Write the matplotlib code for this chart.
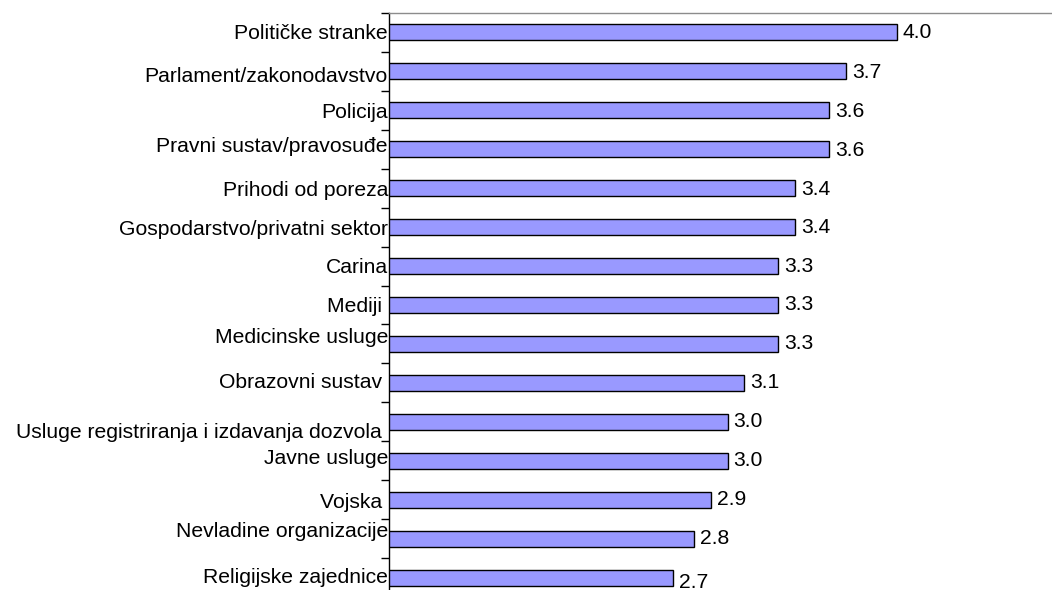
import matplotlib
matplotlib.use("Agg")
import matplotlib.pyplot as plt
import matplotlib.transforms as mtransforms
from matplotlib.ticker import FixedLocator, NullFormatter

plt.rcParams['font.family'] = ['Liberation Sans', 'DejaVu Sans']

categories = [
    "Političke stranke",
    "Parlament/zakonodavstvo",
    "Policija",
    "Pravni sustav/pravosuđe",
    "Prihodi od poreza",
    "Gospodarstvo/privatni sektor",
    "Carina",
    "Mediji ",
    "Medicinske usluge",
    "Obrazovni sustav ",
    "Usluge registriranja i izdavanja dozvola ",
    "Javne usluge",
    "Vojska ",
    "Nevladine organizacije",
    "Religijske zajednice",
]
values = [4.0, 3.7, 3.6, 3.6, 3.4, 3.4, 3.3, 3.3, 3.3, 3.1, 3.0, 3.0, 2.9, 2.8, 2.68]

# layout: vertical nudges (pixels, positive = down) of the category labels and value labels
label_nudge_px = [1, 5, 2, -3, 2, 2, 1.5, 1, -6.5, 0, 11, -2, 3, -7, 0]
value_nudge_px = [0, 1.5, 1, 1, 1, 0, 0, 0, 0, 0, 0, 0, 0, 0, 5]

W, H = 1052, 590
fig = plt.figure(figsize=(W / 100, H / 100), dpi=100)
left_px, right_px, top_px, bottom_px = 389, 1066, 13, 597
ax = fig.add_axes([left_px / W, (H - bottom_px) / H,
                   (right_px - left_px) / W, (bottom_px - top_px) / H])

y = list(range(len(categories)))
ax.barh(y, values, left=0, height=0.41, color='#9999FF', edgecolor='black', linewidth=1.0)
ax.set_xlim(1, 5)
ax.set_ylim(len(categories) - 0.5, -0.5)

# spines
for s in ['right', 'bottom']:
    ax.spines[s].set_visible(False)
ax.spines['top'].set_color('#8c8c8c')
ax.spines['top'].set_linewidth(1.0)
ax.spines['left'].set_color('black')
ax.spines['left'].set_linewidth(1.0)

ax.set_xticks([])
ax.yaxis.set_major_locator(FixedLocator([i - 0.5 for i in range(len(categories) + 1)]))
ax.yaxis.set_major_formatter(NullFormatter())
ax.tick_params(axis='y', direction='out', length=6, width=1, color='black')

fs = 15.2
trans = mtransforms.blended_transform_factory(ax.transAxes, ax.transData)
for i, (cat, dy) in enumerate(zip(categories, label_nudge_px)):
    ax.annotate(cat, xy=(0, i), xycoords=trans, xytext=(-1, -dy), textcoords='offset pixels',
                ha='right', va='center', fontsize=fs, color='black', annotation_clip=False)

for i, (v, dy) in enumerate(zip(values, value_nudge_px)):
    ax.annotate(f"{v:.1f}", xy=(v, i), xytext=(6, -dy), textcoords='offset pixels',
                ha='left', va='center', fontsize=fs, color='black', annotation_clip=False)

fig.savefig("out.png", dpi=100)
